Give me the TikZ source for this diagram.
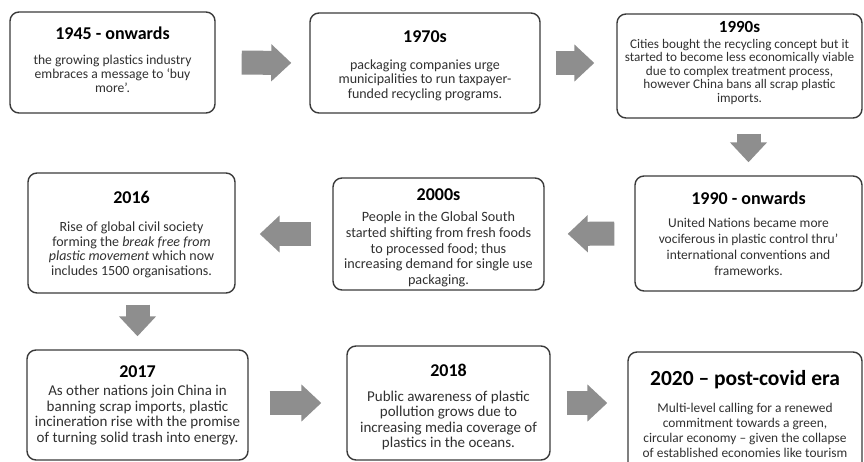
\documentclass[tikz,border=0pt]{standalone}
\usepackage{fontspec}
\setmainfont{Carlito}
\usetikzlibrary{arrows.meta, calc, positioning}
\definecolor{boxline}{HTML}{3A3A3A}
\definecolor{flowgray}{HTML}{8E8E8E}
\definecolor{bodytext}{HTML}{303030}
\newcommand{\eratitle}[3][18]{{\fontsize{#1}{#1}\selectfont\bfseries\color{black}#2}\\[#3]}

\begin{document}
\begin{tikzpicture}[x=1pt, y=-1pt]

  \tikzstyle{era} = [%
  align=center,
  draw=boxline,
  inner sep=2pt,
  line width=1.4pt,
  rectangle,
  rounded corners=9pt,
  text=bodytext,
  ];

  \tikzstyle{flow} = [%
  draw=flowgray,
  line width=24pt,
  -{Triangle[length=20pt, width=36pt]},
  ];

  \useasboundingbox (0,0) rectangle (864,462);
  \clip (0,0) rectangle (864,462);

  \node[era, minimum width=205pt, minimum height=101pt,
    font=\fontsize{13.6}{14}\selectfont] (y1945) at (112.5,62.5)
  {\eratitle{1945 - onwards}{11pt}
    the growing plastics industry\\
    embraces a message to `buy\\
    more'.\rule[-5pt]{0pt}{0pt}};
  \node[era, minimum width=230pt, minimum height=100pt,
    font=\fontsize{14}{14.5}\selectfont] (y1970) at (425,63)
  {\eratitle{\rule{0pt}{17pt}1970s}{12pt}
    packaging companies urge\\
    municipalities to run taxpayer-\\
    funded recycling programs.};
  \node[era, minimum width=245pt, minimum height=104pt,
    font=\fontsize{13.2}{13.5}\selectfont] (y1990) at (739.5,66)
  {\eratitle[17]{1990s}{2pt}
    Cities bought the recycling concept but it\\
    started to become less economically viable\\
    due to complex treatment process,\\
    however China bans all scrap plastic\\
    imports.\rule[-8pt]{0pt}{0pt}};
  \node[era, minimum width=227pt, minimum height=115pt,
    font=\fontsize{13.5}{15.8}\selectfont] (y1990on) at (748.5,233.5)
  {\eratitle{1990 - onwards}{8pt}
    United Nations became more\\
    vociferous in plastic control thru'\\
    international conventions and\\
    frameworks.};
  \node[era, minimum width=211pt, minimum height=112pt,
    font=\fontsize{14.2}{15.6}\selectfont] (y2000) at (438.5,234)
  {\eratitle{\rule{0pt}{19pt}2000s}{6pt}
    People in the Global South\\
    started shifting from fresh foods\\
    to processed food; thus\\
    increasing demand for single use\\
    packaging.};
  \node[era, minimum width=207pt, minimum height=120pt,
    font=\fontsize{14}{14.7}\selectfont] (y2016) at (131.5,233)
  {\eratitle{\rule{0pt}{16pt}2016}{13pt}
    Rise of global civil society\\
    forming the \textit{break free from}\\
    \textit{plastic movement} which now\\
    includes 1500 organisations.};
  \node[era, minimum width=221pt, minimum height=110pt,
    font=\fontsize{15}{15.5}\selectfont] (y2017) at (137.5,405)
  {\eratitle{2017}{3pt}
    As other nations join China in\\
    banning scrap imports, plastic\\
    incineration rise with the promise\\
    of turning solid trash into energy.};
  \node[era, minimum width=203pt, minimum height=114pt,
    font=\fontsize{15}{15.5}\selectfont] (y2018) at (448.5,403)
  {\eratitle{\rule{0pt}{21pt}2018}{9pt}
    Public awareness of plastic\\
    pollution grows due to\\
    increasing media coverage of\\
    plastics in the oceans.};
  \node[era, minimum width=234pt, minimum height=124pt,
    font=\fontsize{13.4}{15}\selectfont] (y2020) at (745,414)
  {\eratitle[21.5]{\rule{0pt}{15pt}2020 -- post-covid era}{12pt}
    Multi-level calling for a renewed\\
    commitment towards a green,\\
    circular economy -- given the collapse\\
    of established economies like tourism};

  \draw[flow, shorten <=26pt, shorten >=18pt] (y1945.east) -- (y1970.west);
  \draw[flow, shorten <=15pt, shorten >=22pt] (y1970.east) -- (y1970.east -| y1990.west);
  \draw[flow, shorten <=15pt, shorten >=13pt] (y1990on.north |- y1990.south) -- (y1990on.north);
  \draw[flow, shorten <=20pt, shorten >=23pt] (y1990on.west) -- (y2000.east);
  \draw[flow, shorten <=21pt, shorten >=24pt] (y2000.west) -- (y2000.west -| y2016.east);
  \draw[flow, shorten <=11pt, shorten >=13pt] (y2017.north |- y2016.south) -- (y2017.north);
  \draw[flow, shorten <=21pt, shorten >=25pt] (y2018.west -| y2017.east) -- (y2018.west);
  \draw[flow, shorten <=16pt, shorten >=20pt] (y2018.east) -- (y2018.east -| y2020.west);

\end{tikzpicture}
\end{document}
